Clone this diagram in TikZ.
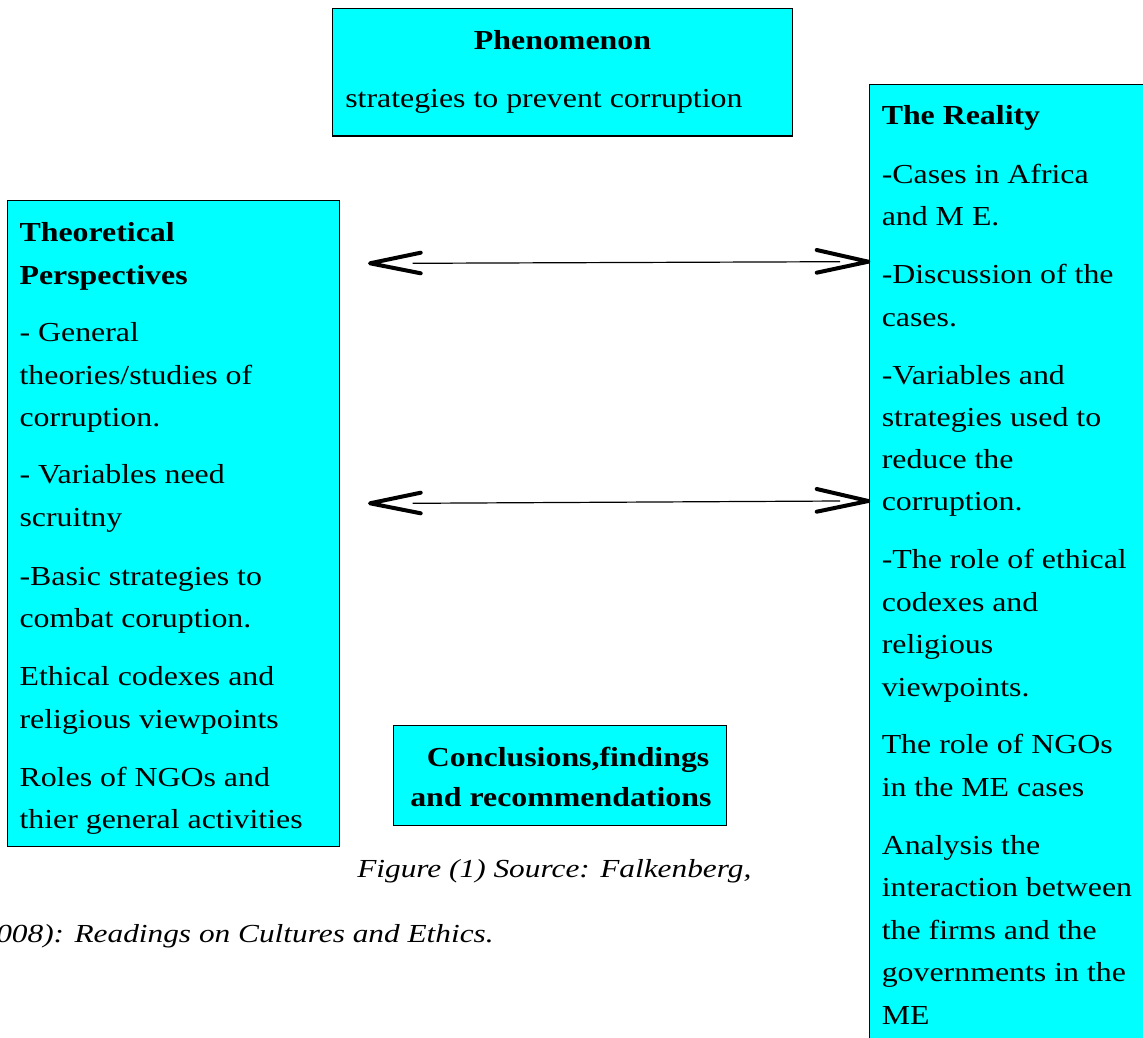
\documentclass[tikz,border=0pt]{standalone}
\usepackage{fontspec}
\setmainfont{Liberation Serif}[FakeStretch=1.16]
\newfontfamily\capfont{Liberation Serif}[FakeStretch=1.205]
\usetikzlibrary{fit,calc}
\definecolor{boxcyan}{HTML}{00FFFF}
\begin{document}
\begin{tikzpicture}[x=0.75pt,y=-0.75pt,
  box/.style={draw=black, line width=1pt, fill=boxcyan, inner sep=0pt},
  txt/.style={anchor=base west, inner sep=0pt, font=\fontsize{20.6pt}{31.9pt}\selectfont},
  btxt/.style={txt, font=\fontsize{20.6pt}{31.9pt}\selectfont\bfseries},
  captxt/.style={anchor=base west, inner sep=0pt, font=\fontsize{19.5pt}{28pt}\capfont\itshape},
  conn/.style={line width=0.9pt},
  chev/.style={line width=3pt, line cap=round, line join=round}]
\useasboundingbox (0,0) rectangle (1143,1038);

% boxes
\node[box, fit={(332.7,8.3) (792.7,136)}] (phen) {};
\node[box, fit={(7.3,200.7) (339.3,846.7)}] (theo) {};
\node[box, fit={(869.3,84.3) (1150,1045)}] (real) {};
\node[box, fit={(393.3,725.7) (726.7,825.7)}] (concl) {};

% phenomenon
\node[btxt, anchor=base] (phen1) at (562.5,50) {Phenomenon};
\node[txt] (phen2) at (345,108) {strategies to prevent corruption};

% theoretical perspectives
\node[btxt] (t1) at (19.3,242) {Theoretical};
\node[btxt] (t2) at (19.3,284.5) {Perspectives};
\node[txt] (t3) at (19.3,341.5) {- General};
\node[txt] (t4) at (19.3,384) {theories/studies of};
\node[txt] (t5) at (19.3,426.5) {corruption.};
\node[txt] (t6) at (19.3,483.5) {- Variables need};
\node[txt] (t7) at (19.3,526) {scruitny};
\node[txt] (t8) at (19.3,585) {-Basic strategies to};
\node[txt] (t9) at (19.3,627.5) {combat coruption.};
\node[txt] (t10) at (19.3,685.5) {Ethical codexes and};
\node[txt] (t11) at (19.3,728) {religious viewpoints};
\node[txt] (t12) at (19.3,786.5) {Roles of NGOs and};
\node[txt] (t13) at (19.3,828.5) {thier general activities};

% the reality
\node[btxt] (r1) at (881.5,125) {The Reality};
\node[txt] (r2) at (881.5,183.3) {-Cases in Africa};
\node[txt] (r3) at (881.5,225.7) {and M E.};
\node[txt] (r4) at (881.5,283.3) {-Discussion of the};
\node[txt] (r5) at (881.5,326.7) {cases.};
\node[txt] (r6) at (881.5,384.5) {-Variables and};
\node[txt] (r7) at (881.5,426.5) {strategies used to};
\node[txt] (r8) at (881.5,468.5) {reduce the};
\node[txt] (r9) at (881.5,510.7) {corruption.};
\node[txt] (r10) at (881.5,568.3) {-The role of ethical};
\node[txt] (r11) at (881.5,611.2) {codexes and};
\node[txt] (r12) at (881.5,653.5) {religious};
\node[txt] (r13) at (881.5,696) {viewpoints.};
\node[txt] (r14) at (881.5,753.3) {The role of NGOs};
\node[txt] (r15) at (881.5,796.5) {in the ME cases};
\node[txt] (r16) at (881.5,854.5) {Analysis the};
\node[txt] (r17) at (881.5,896.7) {interaction between};
\node[txt] (r18) at (881.5,939) {the firms and the};
\node[txt] (r19) at (881.5,981.5) {governments in the};
\node[txt] (r20) at (881.5,1024) {ME};

% conclusions
\node[btxt] (c1) at (426.7,766.7) {Conclusions,findings};
\node[btxt] (c2) at (410,806.7) {and recommendations};

% caption
\node[captxt] (cap1) at (357,877) {Figure (1) Source: Falkenberg,};
\node[captxt] (cap2) at (-4,942) {008): Readings on Cultures and Ethics.};

% connectors (double chevron arrows)
\coordinate (a1l) at (370,263.3);
\coordinate (a1r) at (868.3,261.7);
\coordinate (a2l) at (370,503.3);
\coordinate (a2r) at (868.3,501);

\draw[conn] ($(a1l)+(42.7,0)$) -- ($(a1r)+(-28.3,0)$);
\draw[chev] ($(a1l)+(50.7,-10.6)$) -- (a1l) -- ($(a1l)+(50.7,10)$);
\draw[chev] ($(a1r)+(-51.6,-11.7)$) -- (a1r) -- ($(a1r)+(-51.6,11)$);

\draw[conn] ($(a2l)+(42.7,0)$) -- ($(a2r)+(-28.3,0)$);
\draw[chev] ($(a2l)+(50.7,-10.6)$) -- (a2l) -- ($(a2l)+(50.7,10)$);
\draw[chev] ($(a2r)+(-51.6,-12)$) -- (a2r) -- ($(a2r)+(-51.6,10.7)$);
\end{tikzpicture}
\end{document}
